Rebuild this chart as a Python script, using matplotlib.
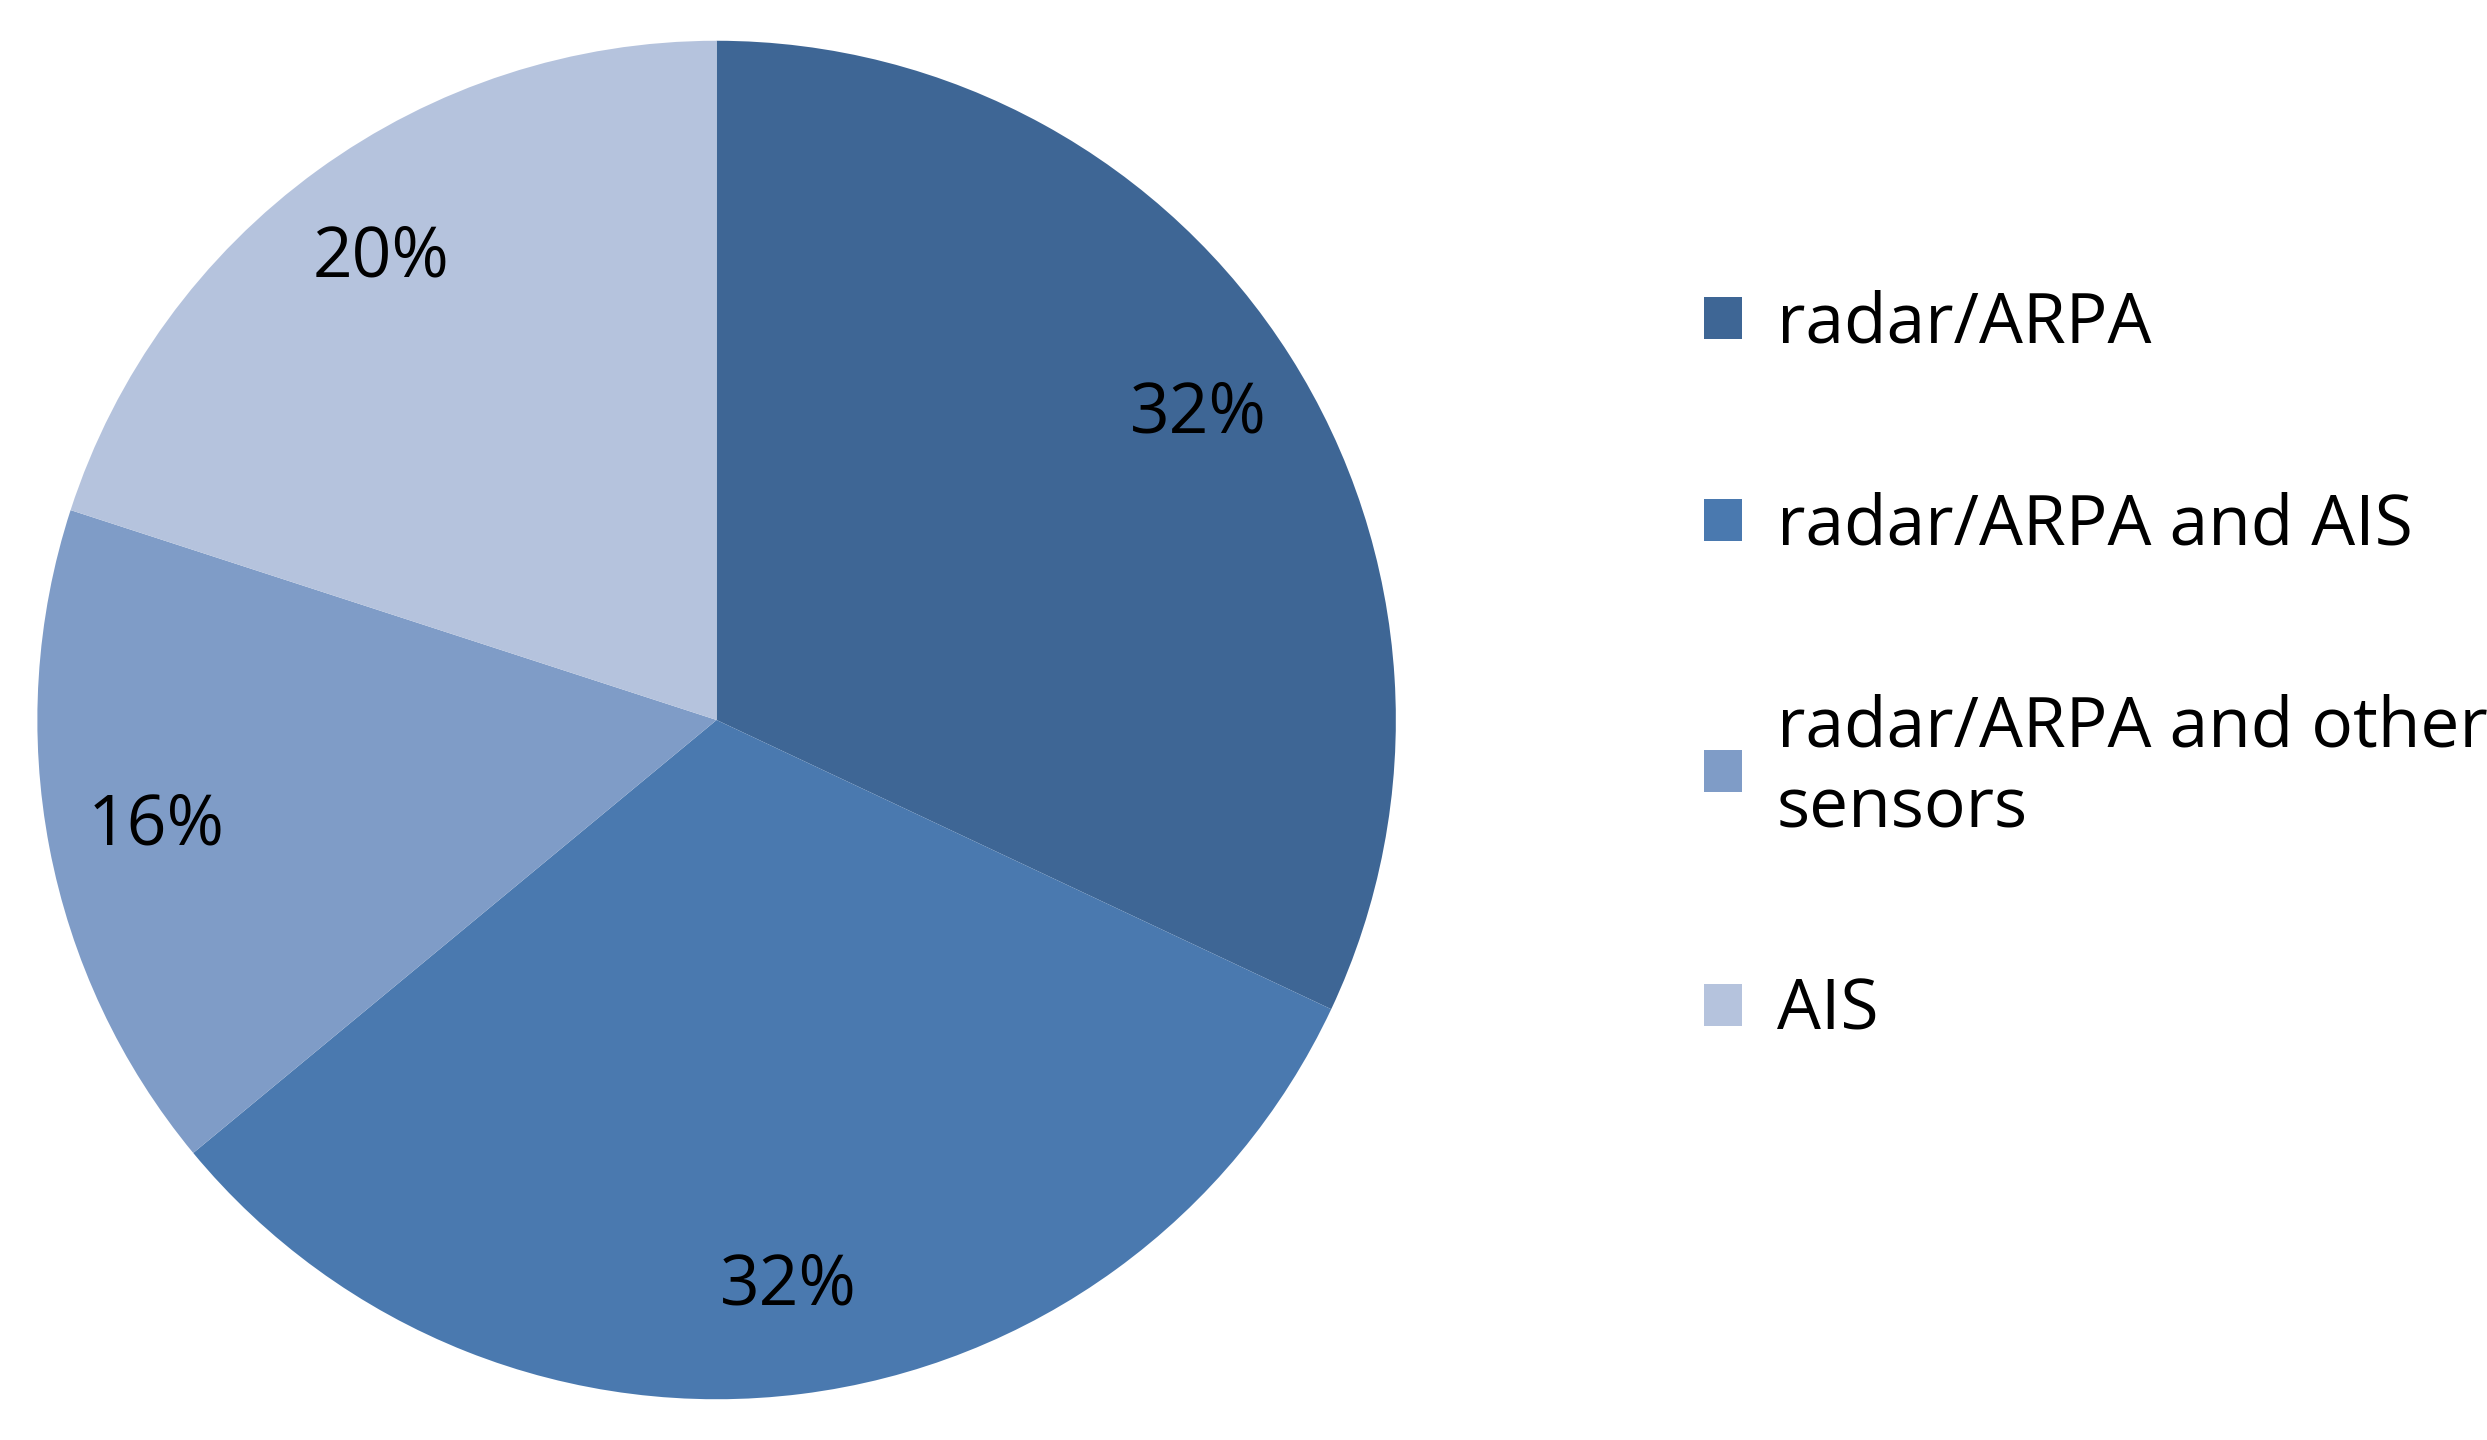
import matplotlib.pyplot as plt

plt.rcParams['font.family'] = ['Open Sans', 'DejaVu Sans']

labels = ['radar/ARPA', 'radar/ARPA and AIS', 'radar/ARPA and other\nsensors', 'AIS']
shares = [32, 32, 16, 20]
colors = ['#3E6695', '#4A79AF', '#7F9CC7', '#B5C3DD']

fig = plt.figure(figsize=(24.87, 14.4), dpi=100)
ax = fig.add_axes([0.0, 0.0, 1440 / 2487, 1.0])
wedges, texts, autotexts = ax.pie(
    shares, colors=colors, startangle=90, counterclock=False,
    autopct='%d%%', pctdistance=0.84,
    textprops={'fontsize': 50, 'color': 'black'},
    wedgeprops={'linewidth': 0})
ax.set_xlim(-1.055, 1.065)
ax.set_ylim(-1.06, 1.06)
ax.set_aspect('equal')

fig.legend(wedges, labels, loc='center left', bbox_to_anchor=(0.66, 0.536),
           frameon=False, fontsize=50, handlelength=0.55, handleheight=0.55,
           handletextpad=0.5, labelspacing=1.9)

fig.savefig('out.png', dpi=100)
